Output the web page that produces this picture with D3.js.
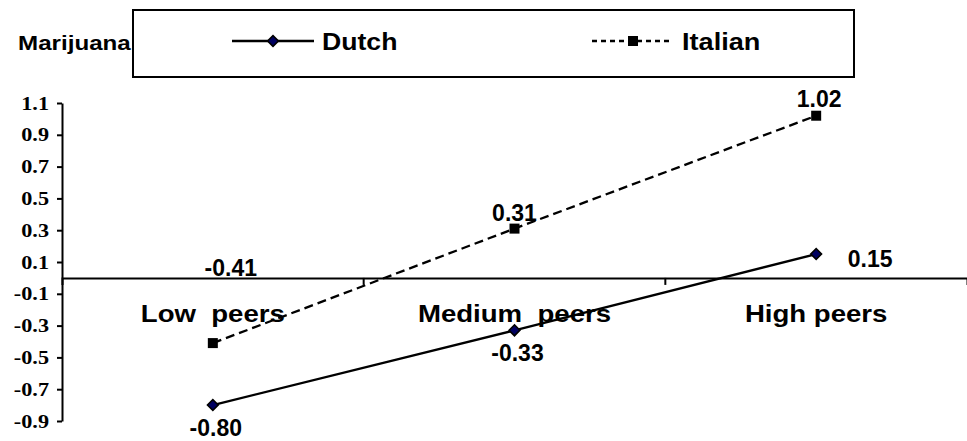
<!DOCTYPE html>
<html>
<head>
<meta charset="utf-8">
<script src="https://cdn.jsdelivr.net/npm/d3@7"></script>
<style>
  html, body { margin: 0; padding: 0; background: #fff; }
  svg { display: block; }
  text { font-family: "Liberation Sans", Arial, sans-serif; font-weight: bold; fill: #000; white-space: pre; }
  .ytick text { font-family: "Liberation Serif", "Times New Roman", serif; }
</style>
</head>
<body>
<svg id="chart" width="967" height="441"></svg>
<script>
// Categories, series and axis ticks
const categories = ["Low  peers", "Medium  peers", "High peers"];
const dutch = [-0.80, -0.33, 0.15];
const italian = [-0.41, 0.31, 1.02];
const yTicks = [1.1, 0.9, 0.7, 0.5, 0.3, 0.1, -0.1, -0.3, -0.5, -0.7, -0.9];
const seriesNames = ["Dutch", "Italian"];
const chartTitle = "Marijuana";

// Value-label placement relative to each marker (dx, dy)
const dutchLabelOffsets = [[3, 31], [3, 31], [54, 12.5]];
const italianLabelOffsets = [[18, -67], [0, -8], [3, -8.5]];

const svg = d3.select("#chart");
const plot = { left: 62, right: 967, top: 103, bottom: 421 };

const x = d3.scaleBand().domain(categories).range([plot.left, plot.right]).padding(0);
const y = d3.scaleLinear().domain([-0.9, 1.1]).range([plot.bottom, plot.top]);
const cx = c => x(c) + x.bandwidth() / 2;

// horizontally widened text helper
function wideText(g, str, tx, ty, size, sx, anchor) {
  return g.append("text")
    .attr("transform", `translate(${tx},${ty}) scale(${sx},1)`)
    .attr("text-anchor", anchor || "start")
    .style("font-size", size + "px")
    .text(str);
}

// Y axis
const yAxis = svg.append("g")
  .attr("class", "ytick")
  .attr("transform", `translate(${plot.left},0)`)
  .call(d3.axisLeft(y).tickValues(yTicks).tickSize(5).tickSizeOuter(0).tickPadding(0)
    .tickFormat(d => d.toFixed(1)));
yAxis.select(".domain").attr("stroke", "#000").attr("stroke-width", 2);
yAxis.selectAll(".tick line").attr("stroke", "#000").attr("stroke-width", 2);
yAxis.selectAll(".tick text")
  .attr("x", 0).attr("dy", null)
  .attr("transform", "translate(-13,6) scale(1.17,1)")
  .style("font-size", "19px")
  .attr("text-anchor", "end");

// X axis along zero with boundary ticks between categories
const xAxis = svg.append("g")
  .attr("transform", `translate(0,${y(0)})`)
  .call(d3.axisBottom(x).tickSize(0).tickSizeOuter(7).tickFormat(""));
xAxis.select(".domain").attr("stroke", "#000").attr("stroke-width", 2);
xAxis.selectAll(".tick").remove();
xAxis.selectAll("line.bound")
  .data(categories.slice(0, -1))
  .join("line")
  .attr("class", "bound")
  .attr("x1", d => x(d) + x.step()).attr("x2", d => x(d) + x.step())
  .attr("y1", 0).attr("y2", 7)
  .attr("stroke", "#000").attr("stroke-width", 2);

// Category labels
const catG = svg.append("g");
categories.forEach(c => wideText(catG, c, cx(c), 321.7, 23, 1.2, "middle"));

// Lines
const line = d3.line().x((d, i) => cx(categories[i])).y(d => y(d));
svg.append("path").datum(italian)
  .attr("d", line).attr("fill", "none")
  .attr("stroke", "#000").attr("stroke-width", 2.3).attr("stroke-dasharray", "9,5");
svg.append("path").datum(dutch)
  .attr("d", line).attr("fill", "none")
  .attr("stroke", "#000").attr("stroke-width", 2.3);

// Markers
const diamond = d3.symbol().type(d3.symbolSquare).size(58);
svg.selectAll("path.dm").data(dutch).join("path")
  .attr("class", "dm")
  .attr("d", diamond)
  .attr("transform", (d, i) => `translate(${cx(categories[i])},${y(d)}) rotate(45)`)
  .attr("fill", "#000060").attr("stroke", "#000").attr("stroke-width", 1.6);
svg.selectAll("rect.im").data(italian).join("rect")
  .attr("class", "im")
  .attr("x", (d, i) => cx(categories[i]) - 5).attr("y", d => y(d) - 5)
  .attr("width", 10).attr("height", 10).attr("fill", "#000");

// Value labels
function valueLabels(vals, offs) {
  svg.append("g").selectAll("text").data(vals).join("text")
    .attr("x", (d, i) => cx(categories[i]) + offs[i][0])
    .attr("y", (d, i) => y(d) + offs[i][1])
    .attr("text-anchor", "middle")
    .style("font-size", "23px")
    .text(d => d.toFixed(2));
}
valueLabels(dutch, dutchLabelOffsets);
valueLabels(italian, italianLabelOffsets);

// Title and legend
const lg = svg.append("g");
wideText(lg, chartTitle, 18, 50, 19.5, 1.24, "start");
lg.append("rect").attr("x", 133).attr("y", 10).attr("width", 721).attr("height", 67)
  .attr("fill", "#fff").attr("stroke", "#000").attr("stroke-width", 2);
// Dutch entry
lg.append("line").attr("x1", 232).attr("x2", 314).attr("y1", 41).attr("y2", 41)
  .attr("stroke", "#000").attr("stroke-width", 2.3);
lg.append("path").attr("d", diamond).attr("transform", "translate(273,41) rotate(45)")
  .attr("fill", "#000060").attr("stroke", "#000").attr("stroke-width", 1.6);
wideText(lg, seriesNames[0], 322, 50, 24, 1.11, "start");
// Italian entry
lg.append("line").attr("x1", 592).attr("x2", 670).attr("y1", 41).attr("y2", 41)
  .attr("stroke", "#000").attr("stroke-width", 2.3).attr("stroke-dasharray", "5,4");
lg.append("rect").attr("x", 628).attr("y", 36).attr("width", 10).attr("height", 10).attr("fill", "#000");
wideText(lg, seriesNames[1], 682, 50, 24, 1.13, "start");
</script>
</body>
</html>
